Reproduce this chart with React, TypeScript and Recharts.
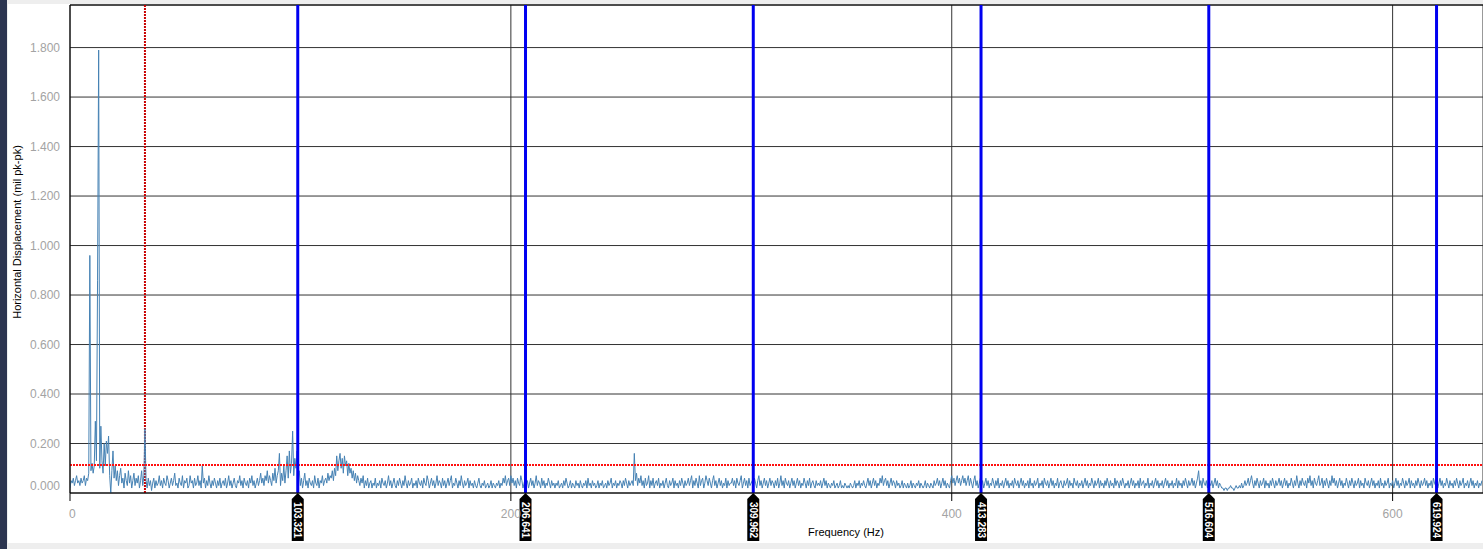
import React from 'react';
import {
  LineChart,
  Line,
  XAxis,
  YAxis,
  CartesianGrid,
  ReferenceLine,
} from 'recharts';

// spectrum amplitude (mil pk-pk), 0.5 Hz bins, one row = 10 Hz, split in 100 Hz bands
const band000 = [
  0.02, 0.05, 0.04, 0.06, 0.03, 0.05, 0.07, 0.04, 0.05, 0.03, 0.06, 0.04, 0.05, 0.07, 0.03, 0.06, 0.05, 0.08, 0.96, 0.09,
  0.12, 0.08, 0.11, 0.29, 0.13, 0.86, 1.79, 0.10, 0.27, 0.13, 0.08, 0.20, 0.11, 0.21, 0.16, 0.23, 0.07, 0.00, 0.09, 0.17,
  0.06, 0.11, 0.05, 0.09, 0.03, 0.07, 0.10, 0.04, 0.06, 0.02, 0.08, 0.05, 0.03, 0.09, 0.04, 0.07, 0.02, 0.05, 0.08, 0.03,
  0.06, 0.04, 0.07, 0.02, 0.05, 0.09, 0.03, 0.07, 0.26, 0.05, 0.02, 0.06, 0.03, 0.05, 0.01, 0.04, 0.06, 0.02, 0.05, 0.03,
  0.04, 0.07, 0.03, 0.05, 0.02, 0.06, 0.04, 0.03, 0.07, 0.05, 0.02, 0.04, 0.06, 0.03, 0.05, 0.08, 0.03, 0.04, 0.02, 0.06,
  0.04, 0.03, 0.07, 0.02, 0.05, 0.04, 0.06, 0.02, 0.03, 0.07, 0.04, 0.05, 0.02, 0.06, 0.03, 0.04, 0.07, 0.03, 0.05, 0.02,
  0.11, 0.04, 0.06, 0.02, 0.05, 0.03, 0.07, 0.04, 0.02, 0.05, 0.03, 0.06, 0.04, 0.02, 0.05, 0.03, 0.06, 0.02, 0.04, 0.05,
  0.03, 0.06, 0.02, 0.04, 0.07, 0.03, 0.05, 0.02, 0.04, 0.06, 0.03, 0.02, 0.05, 0.04, 0.07, 0.03, 0.05, 0.02, 0.06, 0.04,
  0.03, 0.05, 0.02, 0.06, 0.04, 0.07, 0.03, 0.05, 0.02, 0.04, 0.06, 0.03, 0.05, 0.08, 0.04, 0.06, 0.03, 0.07, 0.05, 0.09,
  0.04, 0.07, 0.05, 0.03, 0.08, 0.05, 0.10, 0.04, 0.07, 0.09, 0.16, 0.03, 0.08, 0.05, 0.11, 0.04, 0.09, 0.15, 0.06, 0.17,
];
const band100 = [
  0.08, 0.12, 0.25, 0.07, 0.14, 0.10, 0.17, 0.06, 0.09, 0.03, 0.06, 0.02, 0.05, 0.08, 0.03, 0.05, 0.02, 0.06, 0.04, 0.03,
  0.05, 0.02, 0.07, 0.04, 0.03, 0.06, 0.02, 0.05, 0.04, 0.07, 0.03, 0.05, 0.06, 0.04, 0.08, 0.05, 0.07, 0.06, 0.09, 0.05,
  0.10, 0.07, 0.15, 0.09, 0.13, 0.16, 0.10, 0.14, 0.08, 0.15, 0.11, 0.13, 0.07, 0.12, 0.08, 0.10, 0.06, 0.09, 0.05, 0.08,
  0.04, 0.07, 0.05, 0.03, 0.06, 0.04, 0.07, 0.02, 0.05, 0.03, 0.06, 0.02, 0.04, 0.05, 0.02, 0.04, 0.03, 0.06, 0.02, 0.04,
  0.03, 0.05, 0.02, 0.06, 0.04, 0.03, 0.05, 0.02, 0.04, 0.07, 0.03, 0.05, 0.02, 0.04, 0.06, 0.03, 0.02, 0.05, 0.03, 0.06,
  0.04, 0.02, 0.05, 0.03, 0.07, 0.04, 0.02, 0.05, 0.03, 0.04, 0.06, 0.02, 0.04, 0.03, 0.05, 0.02, 0.06, 0.04, 0.03, 0.05,
  0.02, 0.06, 0.04, 0.03, 0.07, 0.05, 0.02, 0.04, 0.06, 0.03, 0.05, 0.02, 0.04, 0.07, 0.03, 0.05, 0.04, 0.02, 0.06, 0.03,
  0.05, 0.02, 0.04, 0.06, 0.03, 0.05, 0.07, 0.02, 0.04, 0.03, 0.06, 0.04, 0.02, 0.05, 0.03, 0.07, 0.04, 0.02, 0.05, 0.03,
  0.04, 0.06, 0.02, 0.05, 0.03, 0.04, 0.02, 0.05, 0.03, 0.02, 0.04, 0.06, 0.03, 0.02, 0.04, 0.03, 0.05, 0.02, 0.03, 0.04,
  0.02, 0.03, 0.05, 0.02, 0.04, 0.03, 0.02, 0.04, 0.03, 0.05, 0.02, 0.04, 0.03, 0.06, 0.04, 0.07, 0.03, 0.05, 0.06, 0.03,
];
const band200 = [
  0.07, 0.04, 0.06, 0.03, 0.05, 0.02, 0.06, 0.04, 0.03, 0.07, 0.05, 0.02, 0.04, 0.06, 0.03, 0.05, 0.02, 0.04, 0.06, 0.03,
  0.05, 0.02, 0.04, 0.07, 0.03, 0.05, 0.04, 0.02, 0.06, 0.03, 0.05, 0.02, 0.04, 0.03, 0.06, 0.04, 0.02, 0.05, 0.03, 0.04,
  0.02, 0.04, 0.03, 0.05, 0.02, 0.03, 0.04, 0.02, 0.05, 0.03, 0.06, 0.04, 0.02, 0.03, 0.05, 0.02, 0.04, 0.03, 0.02, 0.05,
  0.03, 0.04, 0.02, 0.05, 0.03, 0.02, 0.04, 0.03, 0.05, 0.02, 0.06, 0.03, 0.04, 0.02, 0.05, 0.03, 0.04, 0.02, 0.03, 0.05,
  0.02, 0.04, 0.03, 0.05, 0.02, 0.03, 0.04, 0.02, 0.05, 0.03, 0.04, 0.06, 0.02, 0.04, 0.03, 0.05, 0.02, 0.04, 0.03, 0.05,
  0.04, 0.02, 0.05, 0.03, 0.06, 0.04, 0.02, 0.05, 0.03, 0.04, 0.05, 0.03, 0.16, 0.05, 0.08, 0.03, 0.06, 0.04, 0.07, 0.03,
  0.05, 0.02, 0.06, 0.03, 0.04, 0.07, 0.02, 0.05, 0.03, 0.06, 0.02, 0.04, 0.05, 0.03, 0.06, 0.02, 0.04, 0.03, 0.05, 0.02,
  0.04, 0.06, 0.03, 0.02, 0.05, 0.03, 0.04, 0.06, 0.02, 0.05, 0.03, 0.04, 0.02, 0.05, 0.03, 0.06, 0.04, 0.02, 0.05, 0.03,
  0.04, 0.06, 0.03, 0.05, 0.07, 0.02, 0.05, 0.03, 0.06, 0.04, 0.02, 0.07, 0.03, 0.05, 0.06, 0.02, 0.04, 0.07, 0.05, 0.03,
  0.06, 0.04, 0.02, 0.05, 0.07, 0.03, 0.05, 0.02, 0.04, 0.06, 0.03, 0.05, 0.02, 0.04, 0.03, 0.06, 0.02, 0.05, 0.03, 0.04,
];
const band300 = [
  0.04, 0.06, 0.03, 0.05, 0.02, 0.06, 0.04, 0.03, 0.05, 0.07, 0.02, 0.04, 0.06, 0.03, 0.05, 0.02, 0.06, 0.03, 0.04, 0.05,
  0.03, 0.06, 0.04, 0.02, 0.05, 0.07, 0.03, 0.05, 0.02, 0.04, 0.06, 0.03, 0.05, 0.02, 0.04, 0.06, 0.03, 0.05, 0.04, 0.02,
  0.05, 0.03, 0.06, 0.02, 0.04, 0.07, 0.03, 0.05, 0.02, 0.06, 0.04, 0.03, 0.05, 0.02, 0.04, 0.06, 0.03, 0.05, 0.02, 0.04,
  0.06, 0.03, 0.05, 0.02, 0.04, 0.03, 0.06, 0.04, 0.02, 0.05, 0.03, 0.06, 0.02, 0.04, 0.05, 0.03, 0.02, 0.05, 0.03, 0.04,
  0.03, 0.05, 0.02, 0.04, 0.06, 0.03, 0.05, 0.02, 0.04, 0.03, 0.02, 0.04, 0.03, 0.05, 0.02, 0.03, 0.04, 0.02, 0.03, 0.05,
  0.02, 0.03, 0.02, 0.04, 0.03, 0.02, 0.03, 0.02, 0.04, 0.03, 0.02, 0.03, 0.05, 0.02, 0.04, 0.03, 0.05, 0.02, 0.04, 0.03,
  0.05, 0.03, 0.02, 0.04, 0.06, 0.03, 0.05, 0.02, 0.04, 0.06, 0.03, 0.05, 0.02, 0.04, 0.03, 0.06, 0.04, 0.07, 0.03, 0.05,
  0.06, 0.03, 0.05, 0.02, 0.04, 0.06, 0.03, 0.05, 0.04, 0.02, 0.05, 0.03, 0.04, 0.02, 0.03, 0.05, 0.02, 0.04, 0.03, 0.02,
  0.04, 0.02, 0.03, 0.05, 0.02, 0.04, 0.03, 0.02, 0.04, 0.03, 0.05, 0.02, 0.04, 0.03, 0.02, 0.03, 0.05, 0.02, 0.04, 0.03,
  0.02, 0.04, 0.03, 0.02, 0.05, 0.03, 0.04, 0.06, 0.03, 0.05, 0.02, 0.04, 0.06, 0.03, 0.05, 0.02, 0.04, 0.03, 0.02, 0.05,
];
const band400 = [
  0.07, 0.04, 0.06, 0.03, 0.05, 0.07, 0.04, 0.06, 0.03, 0.05, 0.07, 0.04, 0.06, 0.03, 0.05, 0.07, 0.03, 0.06, 0.04, 0.02,
  0.05, 0.07, 0.03, 0.05, 0.02, 0.04, 0.06, 0.03, 0.05, 0.02, 0.04, 0.06, 0.03, 0.05, 0.02, 0.04, 0.03, 0.06, 0.04, 0.02,
  0.05, 0.03, 0.06, 0.02, 0.04, 0.03, 0.05, 0.02, 0.04, 0.06, 0.03, 0.05, 0.02, 0.04, 0.03, 0.05, 0.02, 0.06, 0.04, 0.03,
  0.05, 0.02, 0.04, 0.06, 0.03, 0.05, 0.02, 0.04, 0.03, 0.05, 0.02, 0.06, 0.03, 0.04, 0.02, 0.05, 0.03, 0.04, 0.06, 0.02,
  0.04, 0.03, 0.05, 0.02, 0.06, 0.04, 0.03, 0.05, 0.02, 0.04, 0.06, 0.03, 0.05, 0.02, 0.04, 0.03, 0.06, 0.02, 0.04, 0.05,
  0.03, 0.02, 0.05, 0.03, 0.04, 0.06, 0.02, 0.05, 0.03, 0.04, 0.02, 0.06, 0.04, 0.03, 0.05, 0.02, 0.04, 0.03, 0.05, 0.02,
  0.04, 0.06, 0.03, 0.05, 0.02, 0.04, 0.03, 0.06, 0.04, 0.02, 0.05, 0.03, 0.04, 0.06, 0.02, 0.05, 0.03, 0.04, 0.02, 0.05,
  0.03, 0.06, 0.04, 0.02, 0.05, 0.03, 0.04, 0.02, 0.06, 0.03, 0.05, 0.04, 0.02, 0.05, 0.03, 0.06, 0.04, 0.02, 0.04, 0.03,
  0.05, 0.02, 0.04, 0.06, 0.03, 0.05, 0.02, 0.04, 0.03, 0.05, 0.02, 0.06, 0.03, 0.04, 0.05, 0.02, 0.04, 0.03, 0.06, 0.02,
  0.04, 0.03, 0.05, 0.02, 0.04, 0.06, 0.03, 0.05, 0.02, 0.04, 0.03, 0.05, 0.02, 0.04, 0.06, 0.03, 0.05, 0.02, 0.04, 0.03,
];
const band500 = [
  0.05, 0.02, 0.04, 0.03, 0.06, 0.02, 0.05, 0.03, 0.04, 0.02, 0.05, 0.03, 0.06, 0.04, 0.02, 0.05, 0.03, 0.04, 0.06, 0.03,
  0.05, 0.02, 0.04, 0.06, 0.09, 0.03, 0.05, 0.02, 0.06, 0.04, 0.03, 0.05, 0.02, 0.06, 0.04, 0.03, 0.05, 0.02, 0.04, 0.06,
  0.03, 0.05, 0.02, 0.04, 0.03, 0.02, 0.02, 0.01, 0.02, 0.02, 0.01, 0.02, 0.02, 0.03, 0.02, 0.02, 0.01, 0.02, 0.03, 0.02,
  0.02, 0.03, 0.02, 0.04, 0.02, 0.03, 0.05, 0.03, 0.04, 0.06, 0.03, 0.05, 0.07, 0.04, 0.02, 0.05, 0.03, 0.06, 0.04, 0.02,
  0.05, 0.03, 0.04, 0.06, 0.02, 0.05, 0.03, 0.04, 0.02, 0.05, 0.03, 0.06, 0.04, 0.02, 0.05, 0.03, 0.04, 0.06, 0.03, 0.05,
  0.02, 0.04, 0.06, 0.03, 0.05, 0.02, 0.04, 0.03, 0.06, 0.04, 0.02, 0.05, 0.03, 0.07, 0.04, 0.02, 0.05, 0.03, 0.06, 0.04,
  0.03, 0.05, 0.02, 0.06, 0.04, 0.07, 0.03, 0.05, 0.02, 0.06, 0.04, 0.03, 0.05, 0.07, 0.03, 0.04, 0.06, 0.02, 0.05, 0.03,
  0.06, 0.04, 0.02, 0.05, 0.03, 0.07, 0.04, 0.06, 0.03, 0.05, 0.02, 0.04, 0.06, 0.03, 0.05, 0.02, 0.04, 0.03, 0.06, 0.04,
  0.02, 0.05, 0.03, 0.06, 0.04, 0.02, 0.05, 0.03, 0.04, 0.06, 0.02, 0.05, 0.03, 0.04, 0.02, 0.06, 0.04, 0.03, 0.05, 0.02,
  0.04, 0.06, 0.03, 0.05, 0.02, 0.04, 0.03, 0.05, 0.02, 0.06, 0.03, 0.04, 0.02, 0.05, 0.03, 0.04, 0.06, 0.02, 0.04, 0.03,
];
const band600 = [
  0.05, 0.02, 0.04, 0.06, 0.03, 0.05, 0.02, 0.04, 0.03, 0.06, 0.04, 0.02, 0.05, 0.03, 0.04, 0.06, 0.02, 0.05, 0.03, 0.04,
  0.02, 0.05, 0.03, 0.06, 0.04, 0.02, 0.05, 0.03, 0.04, 0.06, 0.03, 0.05, 0.02, 0.04, 0.03, 0.05, 0.02, 0.06, 0.04, 0.03,
  0.05, 0.02, 0.04, 0.06, 0.03, 0.05, 0.02, 0.04, 0.03, 0.06, 0.04, 0.02, 0.05, 0.03, 0.04, 0.02, 0.05, 0.03, 0.06, 0.04,
  0.02, 0.05, 0.03, 0.04, 0.06, 0.02, 0.04, 0.03, 0.05, 0.02, 0.04, 0.06, 0.03, 0.05, 0.02, 0.04, 0.03, 0.05, 0.02, 0.04,
  0.03, 0.05,
];

const BIN_HZ = 0.5;
const harmonics = [103.321, 206.641, 309.962, 413.283, 516.604, 619.924];
const cursorHz = 34;
const alarmLevel = 0.113;
const xTicks = [0, 200, 400, 600];
const yTicks = [0, 0.2, 0.4, 0.6, 0.8, 1.0, 1.2, 1.4, 1.6, 1.8];
const X_MAX = 641;
const Y_MAX = 1.972;

const spectrum = [...band000, ...band100, ...band200, ...band300, ...band400, ...band500, ...band600];
const chartData = spectrum.map((amp, i) => ({ freq: i * BIN_HZ, amp }));

const FONT = '"Liberation Sans", Arial, sans-serif';

const YTick = ({ y, payload }: any) => (
  <text
    x={52}
    y={payload.value === 0 ? y - 7 : y}
    textAnchor="end"
    dominantBaseline="central"
    fill="#a3a3a3"
    fontSize={12}
    fontFamily={FONT}
  >
    {Number(payload.value).toFixed(3)}
  </text>
);

const XTick = ({ x, y, payload }: any) => (
  <text
    x={payload.value === 0 ? x - 1 : x}
    y={y + 11}
    textAnchor={payload.value === 0 ? 'start' : 'middle'}
    dominantBaseline="central"
    fill="#a3a3a3"
    fontSize={12}
    fontFamily={FONT}
  >
    {payload.value}
  </text>
);

const HarmonicBadge = ({ viewBox, text }: any) => {
  if (!viewBox) return null;
  const cx = viewBox.x;
  const by = viewBox.y + viewBox.height;
  return (
    <g>
      <path
        d={`M${cx},${by} L${cx + 6},${by + 6} L${cx + 6},${by + 48} L${cx - 6},${by + 48} L${cx - 6},${by + 6} Z`}
        fill="#000"
      />
      <text
        transform={`translate(${cx},${by + 9}) rotate(90)`}
        fill="#fff"
        fontSize={10}
        fontWeight="bold"
        fontFamily={FONT}
        dominantBaseline="central"
      >
        {text}
      </text>
    </g>
  );
};

export default function App() {
  return (
    <div
      style={{
        position: 'absolute',
        left: 0,
        top: 0,
        width: 1483,
        height: 549,
        background: '#eeeeee',
        overflow: 'hidden',
      }}
    >
      <div style={{ position: 'absolute', left: 0, top: 0, width: 7, height: 549, background: '#2c3550' }} />
      <div style={{ position: 'absolute', left: 8, top: 4, width: 1475, height: 539, background: '#fff' }}>
        <LineChart
          width={1475}
          height={539}
          data={chartData}
          margin={{ top: 1, right: 0, left: 0, bottom: 0 }}
        >
          <CartesianGrid stroke="#333" strokeWidth={1} />
          <XAxis
            dataKey="freq"
            type="number"
            domain={[0, X_MAX]}
            ticks={xTicks}
            allowDataOverflow
            height={50}
            axisLine={{ stroke: '#000' }}
            tickLine={{ stroke: '#000' }}
            tickSize={8}
            tick={<XTick />}
          />
          <YAxis
            type="number"
            domain={[0, Y_MAX]}
            ticks={yTicks}
            allowDataOverflow
            width={62}
            axisLine={{ stroke: '#000' }}
            tickLine={false}
            tick={<YTick />}
          />
          <ReferenceLine y={Y_MAX} stroke="#000" strokeWidth={1} />
          <ReferenceLine x={cursorHz} stroke="#c80000" strokeWidth={2} strokeDasharray="2 1" />
          <Line
            type="linear"
            dataKey="amp"
            stroke="#4682b4"
            strokeWidth={1}
            dot={false}
            isAnimationActive={false}
          />
          <ReferenceLine y={alarmLevel} stroke="#ff1010" strokeWidth={2} strokeDasharray="2 1" />
          {harmonics.map((h) => (
            <ReferenceLine
              key={h}
              x={h}
              stroke="#0000f0"
              strokeWidth={3}
              label={(props: any) => <HarmonicBadge {...props} text={h.toFixed(3)} />}
            />
          ))}
        </LineChart>
      </div>
      <div
        style={{
          position: 'absolute',
          left: 17,
          top: 232,
          transform: 'translate(-50%, -50%) rotate(-90deg)',
          whiteSpace: 'nowrap',
          fontFamily: FONT,
          fontSize: 11,
          color: '#000',
        }}
      >
        Horizontal Displacement (mil pk-pk)
      </div>
      <div
        style={{
          position: 'absolute',
          left: 846,
          top: 532,
          transform: 'translate(-50%, -50%)',
          whiteSpace: 'nowrap',
          fontFamily: FONT,
          fontSize: 11,
          color: '#000',
        }}
      >
        Frequency (Hz)
      </div>
    </div>
  );
}
